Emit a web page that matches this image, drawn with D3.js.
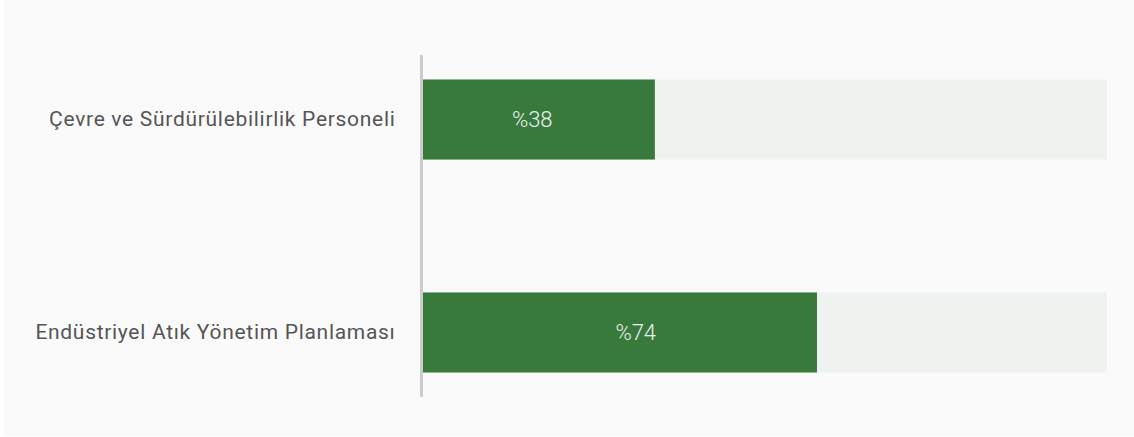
<!DOCTYPE html>
<html>
<head>
<meta charset="utf-8">
<script src="https://cdn.jsdelivr.net/npm/d3@7"></script>
<style>
    body { margin: 0; background: #ffffff; }
    #chart { position: absolute; left: 4px; top: 0; width: 1130px; height: 436px; background: #fafafa; }
    .cat_label { font-family: Roboto, sans-serif; font-size: 21px; letter-spacing: 0.7px; fill: #555555; }
    .val_label { font-family: Roboto, sans-serif; font-size: 22px; font-weight: 300; fill: #eef3ee; }
</style>
</head>
<body>
<div id="chart"></div>
<script>
// data
let categories = ['Çevre ve Sürdürülebilirlik Personeli', 'Endüstriyel Atık Yönetim Planlaması']
let values = [38, 74]
let valueLabels = ['%38', '%74']
// visible length of the green fill, as % of the grey track
let fillShare = [33.9, 57.6]

let svgWidth = 1130
let svgHeight = 436
let padding = {
    'left': 419,
    'right': 27,
    'top': 55,
    'bottom': 39
}

let svg = d3.select('#chart').append('svg')
    .attr('width', svgWidth)
    .attr('height', svgHeight)

let x = d3.scaleLinear()
    .domain([0, 100])
    .range([padding.left, svgWidth - padding.right])

// label positions follow the value on the chart's own value scale
let xLabel = d3.scaleLinear()
    .domain([0, 100])
    .range([0, 575])

let y = d3.scaleBand()
    .domain(categories)
    .range([padding.top, svgHeight - padding.bottom])
    .paddingInner(0.624)
    .paddingOuter(0.115)

// track
svg.append('g')
    .selectAll('rect')
    .data(categories)
    .enter()
    .append('rect')
    .attr('x', x(0))
    .attr('y', d => y(d))
    .attr('width', x(100) - x(0))
    .attr('height', y.bandwidth())
    .attr('fill', '#eef3ef')

// fill
svg.append('g')
    .selectAll('rect')
    .data(categories)
    .enter()
    .append('rect')
    .attr('x', x(0))
    .attr('y', d => y(d))
    .attr('width', (d, i) => x(fillShare[i]) - x(0))
    .attr('height', y.bandwidth())
    .attr('fill', '#38793c')

svg.append('g')
    .selectAll('text')
    .data(categories)
    .enter()
    .append('text')
    .attr('class', 'val_label')
    .attr('x', (d, i) => x(0) + xLabel(values[i]) / 2)
    .attr('y', d => y(d) + y.bandwidth() / 2)
    .attr('dy', '0.35em')
    .attr('text-anchor', 'middle')
    .text((d, i) => valueLabels[i])

// y axis: only the line and the category names
let axis_y = d3.axisLeft()
    .scale(y)
    .tickSize(0)
    .tickPadding(26)

let gy = svg.append('g')
    .attr('transform', `translate(${padding.left - 1.5}, 0)`)
    .call(axis_y)
gy.select('.domain')
    .attr('d', `M0,${padding.top}V${svgHeight - padding.bottom}`)
    .attr('stroke', '#cccccc')
    .attr('stroke-width', 3)
gy.selectAll('.tick text')
    .attr('class', 'cat_label')
    .attr('font-family', null)
    .attr('font-size', null)
    .attr('fill', null)
</script>
</body>
</html>
